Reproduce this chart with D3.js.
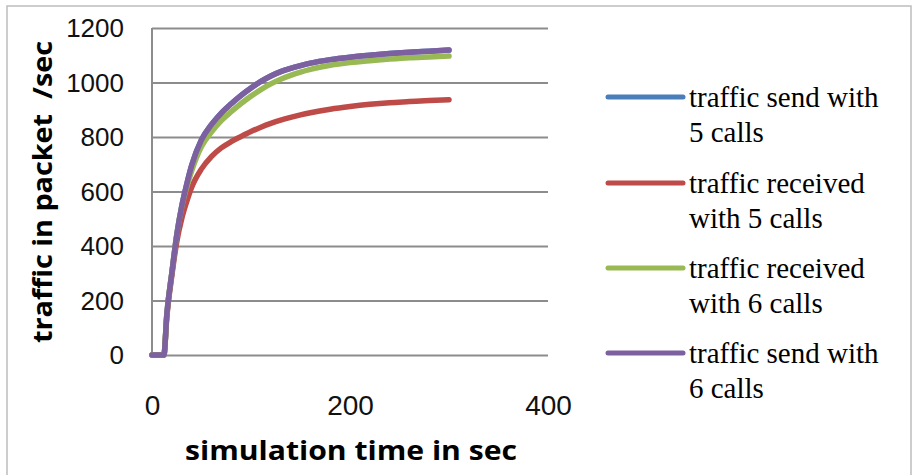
<!DOCTYPE html>
<html>
<head>
<meta charset="utf-8">
<script src="https://cdn.jsdelivr.net/npm/d3@7"></script>
<style>
html,body{margin:0;padding:0;background:#fff;}
svg{display:block;}
</style>
</head>
<body>
<svg id="chart" width="915" height="475"></svg>
<script>
// ---- data ----
const times = [0, 10, 12, 15, 20, 25, 30, 35, 40, 50, 60, 70, 80, 90, 100, 110, 120, 130, 140, 150, 160, 180, 200, 220, 240, 260, 280, 300];
const send5 = [0, 0, 0, 150, 300, 440, 545, 625, 695, 790, 845, 888, 922, 953, 980, 1004, 1024, 1040, 1052, 1062, 1071, 1084, 1093, 1100, 1106, 1111, 1115, 1119];
const recv5 = [0, 0, 0, 140, 290, 415, 500, 562, 615, 683, 728, 760, 783, 802, 820, 836, 850, 862, 872, 881, 889, 902, 912, 920, 926, 930, 934, 937];
const recv6 = [0, 0, 0, 150, 300, 440, 543, 615, 675, 765, 818, 860, 893, 923, 950, 974, 995, 1012, 1026, 1038, 1048, 1063, 1073, 1080, 1086, 1091, 1094, 1097];
const send6 = [0, 0, 0, 150, 300, 440, 545, 625, 695, 790, 845, 888, 922, 953, 980, 1004, 1024, 1040, 1052, 1062, 1071, 1084, 1093, 1100, 1106, 1111, 1115, 1119];
const seriesNames = [["traffic send with", "5 calls"], ["traffic received", "with 5 calls"], ["traffic received", "with 6 calls"], ["traffic send with", "6 calls"]];
const seriesColors = ["#4A7EBB", "#BE4B48", "#98B954", "#7D60A0"];
const yTicks = [0, 200, 400, 600, 800, 1000, 1200];
const xTicks = [0, 200, 400];
const xTitle = "simulation time in sec";
const yTitle = "traffic in packet  /sec";

const seriesValues = [send5, recv5, recv6, send6];

// ---- layout ----
const svg = d3.select("#chart");
const pLeft = 152, pRight = 548, pTop = 28, pBottom = 355;
const x = d3.scaleLinear().domain([0, 400]).range([pLeft, pRight]);
const y = d3.scaleLinear().domain([0, 1200]).range([pBottom, pTop]);

// outer border
svg.append("rect").attr("x", 7).attr("y", 6).attr("width", 904).attr("height", 480)
  .attr("fill", "none").attr("stroke", "#BDBDBD").attr("stroke-width", 1.5);

// gridlines
const yAxis = d3.axisLeft(y).tickValues(yTicks).tickSize(-(pRight - pLeft)).tickFormat(d3.format("d")).tickPadding(28);
const gy = svg.append("g").attr("transform", `translate(${pLeft},0)`).call(yAxis);
gy.select(".domain").remove();
gy.selectAll(".tick line").attr("stroke", "#8C8C8C").attr("stroke-width", 2);
gy.selectAll(".tick text").attr("font-family", "'Liberation Sans', Arial, sans-serif")
  .attr("font-size", 26).attr("fill", "#111").attr("dy", "0.34em");

// y axis line
svg.append("line").attr("x1", pLeft).attr("x2", pLeft).attr("y1", pTop).attr("y2", pBottom)
  .attr("stroke", "#8C8C8C").attr("stroke-width", 2);

// x axis labels
const xAxis = d3.axisBottom(x).tickValues(xTicks).tickSize(0).tickFormat(d3.format("d")).tickPadding(0);
const gx = svg.append("g").attr("transform", `translate(0,${pBottom})`).call(xAxis);
gx.select(".domain").remove();
gx.selectAll(".tick text").attr("font-family", "'Liberation Sans', Arial, sans-serif")
  .attr("font-size", 28).attr("fill", "#111").attr("dy", null).attr("y", 60);

// lines
const line = d3.line().x((d, i) => x(times[i])).y(d => y(d)).curve(d3.curveMonotoneX);
seriesValues.forEach((vals, i) => {
  svg.append("path").datum(vals).attr("d", line).attr("fill", "none")
    .attr("stroke", seriesColors[i]).attr("stroke-width", 5.5)
    .attr("stroke-linejoin", "round").attr("stroke-linecap", "round");
});

// axis titles
svg.append("text").attr("x", 351).attr("y", 460).attr("text-anchor", "middle")
  .attr("font-family", "'Open Sans', 'DejaVu Sans', sans-serif").attr("font-weight", "bold")
  .attr("font-size", 27).attr("fill", "#000")
  .attr("textLength", 332).attr("lengthAdjust", "spacingAndGlyphs").text(xTitle);

svg.append("text").attr("transform", "translate(52,192) rotate(-90)").attr("text-anchor", "middle")
  .attr("font-family", "'Open Sans', 'DejaVu Sans', sans-serif").attr("font-weight", "bold")
  .attr("font-size", 27).attr("fill", "#000").style("white-space", "pre")
  .attr("textLength", 302).attr("lengthAdjust", "spacingAndGlyphs").text(yTitle);

// legend
const legY = [97, 183, 268, 353];
seriesNames.forEach((lines, i) => {
  const g = svg.append("g");
  g.append("line").attr("x1", 608).attr("x2", 683).attr("y1", legY[i]).attr("y2", legY[i])
    .attr("stroke", seriesColors[i]).attr("stroke-width", 5).attr("stroke-linecap", "round");
  lines.forEach((t, j) => {
    g.append("text").attr("x", 689).attr("y", legY[i] + 10 + j * 35)
      .attr("font-family", "'Liberation Serif', 'Times New Roman', serif")
      .attr("font-size", 29).attr("fill", "#000").text(t);
  });
});
</script>
</body>
</html>
